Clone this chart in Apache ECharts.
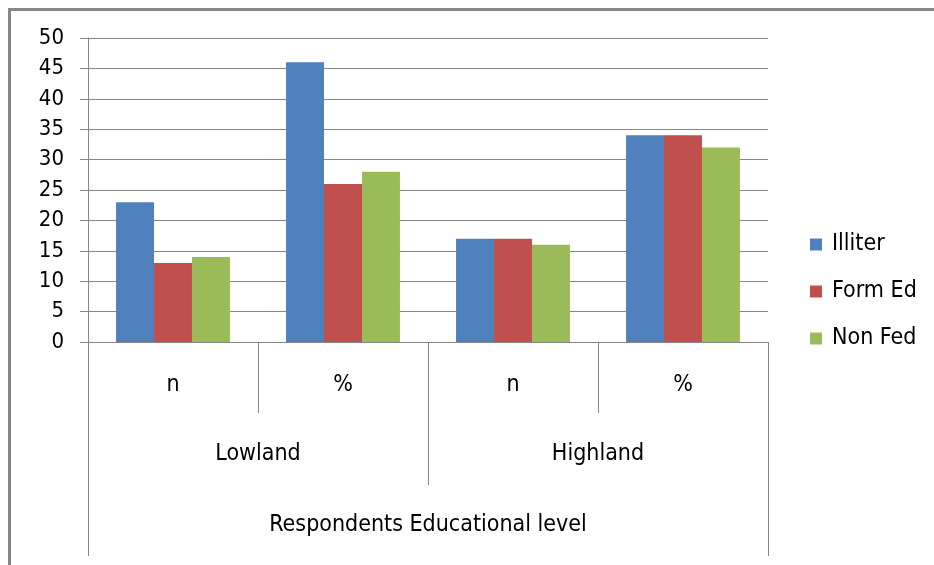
<!DOCTYPE html>
<html>
<head>
<meta charset="utf-8">
<script src="https://cdn.jsdelivr.net/npm/echarts@6/dist/echarts.min.js"></script>
<style>
  html, body { margin: 0; padding: 0; background: #fff; }
  #chart { width: 934px; height: 565px; }
</style>
</head>
<body>
<div id="chart"></div>
<script>
// Inner categories, their groups, and the overall axis title
const categories = ['n', '%', 'n', '%'];
const groups = ['Lowland', 'Highland'];
const axisTitle = ['Respondents Educational level'];

// Series values per category
const seriesNames = ['Illiter', 'Form Ed', 'Non Fed'];
const illiter = [23, 46, 17, 34];
const formEd = [13, 26, 17, 34];
const nonFed = [14, 28, 16, 32];

const colors = ['#4F81BD', '#C0504D', '#9BBB59'];
const gridColor = '#868686';
const fontFamily = '"DejaVu Sans Condensed", "DejaVu Sans", sans-serif';

const chart = echarts.init(document.getElementById('chart'));

// Category axis levels: separator ticks grow longer at each outer level
function levelAxis(data, tickLen, labelMargin, showLine) {
  return {
    type: 'category',
    data: data,
    position: 'bottom',
    gridIndex: 0,
    boundaryGap: true,
    axisLine: { show: showLine, lineStyle: { color: gridColor, width: 1 } },
    axisTick: { show: true, inside: false, length: tickLen, alignWithLabel: false,
                lineStyle: { color: gridColor, width: 1 } },
    axisLabel: { margin: labelMargin, color: '#000', fontSize: 23, fontFamily: fontFamily,
                 interval: 0 },
    splitLine: { show: false }
  };
}

const seriesData = [illiter, formEd, nonFed];

chart.setOption({
  animation: false,
  backgroundColor: '#fff',
  color: colors,
  grid: { left: 88, right: 166, top: 38, bottom: 223, containLabel: false },
  legend: {
    orient: 'vertical',
    left: 805,
    top: 228,
    itemWidth: 12,
    itemHeight: 12,
    itemGap: 24,
    icon: 'rect',
    textStyle: { color: '#000', fontSize: 23, fontFamily: fontFamily, padding: [0, 0, 0, 5] },
    data: seriesNames
  },
  xAxis: [
    levelAxis(categories, 71, 32, true),
    levelAxis(groups, 143, 101, false),
    levelAxis(axisTitle, 214, 172, false)
  ],
  yAxis: {
    type: 'value',
    min: 0,
    max: 50,
    interval: 5,
    axisLine: { show: true, lineStyle: { color: gridColor, width: 1 } },
    axisTick: { show: true, length: 8, lineStyle: { color: gridColor } },
    axisLabel: { margin: 24, color: '#000', fontSize: 22, fontFamily: fontFamily },
    splitLine: { show: true, lineStyle: { color: gridColor, width: 1 } }
  },
  series: seriesNames.map((name, i) => ({
    name: name,
    type: 'bar',
    xAxisIndex: 0,
    data: seriesData[i],
    barGap: '0%',
    barCategoryGap: '33%',
    itemStyle: { color: colors[i] }
  })),
  graphic: [
    {
      type: 'rect',
      shape: { x: 9.5, y: 9.5, width: 1200, height: 1200 },
      style: { fill: 'none', stroke: '#868686', lineWidth: 3 },
      silent: true
    }
  ]
});
</script>
</body>
</html>
